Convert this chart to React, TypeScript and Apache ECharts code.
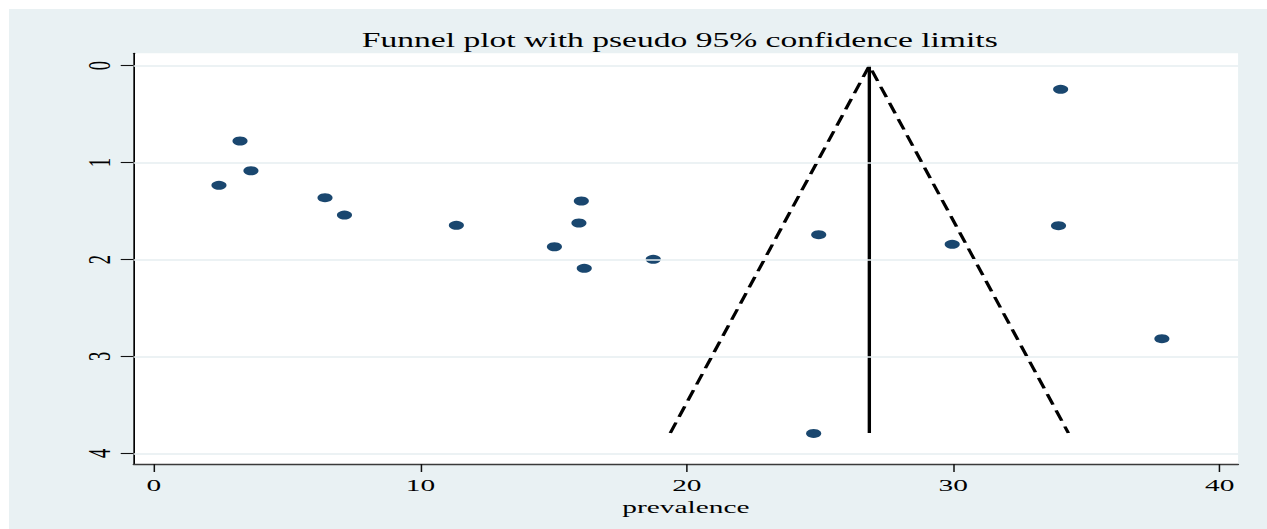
import React, { useEffect, useRef } from "react";
import * as echarts from "echarts";

// ---- data ----
const TITLE = "Funnel plot with pseudo 95% confidence limits";
const X_NAME = "prevalence";

// study prevalence (x) and standard error (y, axis reversed)
const studyPrevalence = [
  2.44, 3.23, 3.64, 6.42, 7.15, 11.35, 15.03, 16.04, 15.95, 16.15, 18.74,
  24.95, 24.76, 29.96, 34.03, 33.95, 37.83,
];
const studySE = [
  1.234, 0.777, 1.084, 1.362, 1.541, 1.647, 1.868, 1.396, 1.623, 2.091, 1.998,
  1.744, 3.794, 1.843, 0.244, 1.651, 2.817,
];

// pseudo 95% confidence limits (dashed) and pooled estimate (solid)
const funnelX = [19.38, 26.85, 34.32];
const funnelY = [3.79, 0, 3.79];
const pooledX = [26.85, 26.85];
const pooledY = [0, 3.79];

// axis ticks
const xTicks = [0, 10, 20, 30, 40];
const yTicks = [0, 1, 2, 3, 4];
const X_MIN = -0.762;
const X_MAX = 40.69;
const Y_MIN = -0.128;
const Y_MAX = 4.11;

// ---- styling ----
const S = 1.68; // horizontal stretch of the reference picture
const BG = "#e9f1f3";
const GRIDLINE = "#e6eef1";
const DOT = "#1a476f";
const SERIF = "'Liberation Serif', 'Times New Roman', serif";

export default function App() {
  const ref = useRef<HTMLDivElement>(null);

  useEffect(() => {
    if (!ref.current) return;
    const chart = echarts.init(ref.current, null, { renderer: "svg" });

    chart.setOption({
      animation: false,
      backgroundColor: BG,
      title: {
        text: TITLE,
        left: 210,
        top: 21,
        padding: 0,
        textStyle: {
          fontFamily: SERIF,
          fontSize: 20,
          fontWeight: "normal",
          color: "#000",
        },
      },
      grid: {
        show: true,
        left: 74.2,
        right: 17.4,
        top: 44.3,
        bottom: 65,
        backgroundColor: "#ffffff",
        borderWidth: 0,
      },
      xAxis: {
        type: "value",
        min: X_MIN,
        max: X_MAX,
        name: X_NAME,
        nameLocation: "middle",
        nameGap: 35,
        nameMoveOverlap: false,
        nameTextStyle: {
          fontFamily: SERIF,
          fontSize: 17.5,
          lineHeight: 15,
          color: "#000",
        },
        axisLine: {
          show: true,
          onZero: false,
          lineStyle: { color: "#3a3a3a", width: 1.3 },
        },
        axisTick: {
          show: true,
          customValues: xTicks,
          length: 8,
          lineStyle: { color: "#111", width: 0.9 },
        },
        axisLabel: {
          customValues: xTicks,
          margin: 13.5,
          fontFamily: SERIF,
          fontSize: 17.5,
          lineHeight: 15,
          color: "#000",
        },
        splitLine: { show: false },
      },
      yAxis: {
        type: "value",
        inverse: true,
        min: Y_MIN,
        max: Y_MAX,
        axisLine: {
          show: true,
          onZero: false,
          lineStyle: { color: "#000", width: 1 },
        },
        axisTick: {
          show: true,
          customValues: yTicks,
          length: 7.7,
          lineStyle: { color: "#111", width: 1.1 },
        },
        axisLabel: {
          customValues: yTicks,
          rotate: 90,
          margin: 11,
          fontFamily: SERIF,
          fontSize: 18.5,
          color: "#000",
        },
        splitLine: { show: false },
      },
      series: [
        {
          name: "limits",
          type: "line",
          data: funnelX.map((x, i) => [x, funnelY[i]]),
          symbol: "none",
          silent: true,
          lineStyle: { color: "#000", width: 2.1, type: [11, 6] },
          markLine: {
            silent: true,
            symbol: ["none", "none"],
            label: { show: false },
            emphasis: { disabled: true },
            lineStyle: { color: GRIDLINE, width: 1.6, type: "solid" },
            data: yTicks.map((v) => ({ yAxis: v })),
          },
          z: 2,
        },
        {
          name: "pooled",
          type: "line",
          data: pooledX.map((x, i) => [x, pooledY[i]]),
          symbol: "none",
          silent: true,
          lineStyle: { color: "#000", width: 2, type: "solid" },
          z: 3,
        },
        {
          name: "studies",
          type: "scatter",
          data: studyPrevalence.map((x, i) => [x, studySE[i]]),
          symbol: "circle",
          symbolSize: 9,
          itemStyle: { color: DOT, opacity: 1 },
          z: 4,
        },
      ],
    });

    return () => {
      chart.dispose();
    };
  }, []);

  return (
    <div
      ref={ref}
      style={{
        position: "fixed",
        left: 9,
        top: 9,
        width: 1258 / S,
        height: 520,
        transform: `scaleX(${S})`,
        transformOrigin: "0 0",
      }}
    />
  );
}
